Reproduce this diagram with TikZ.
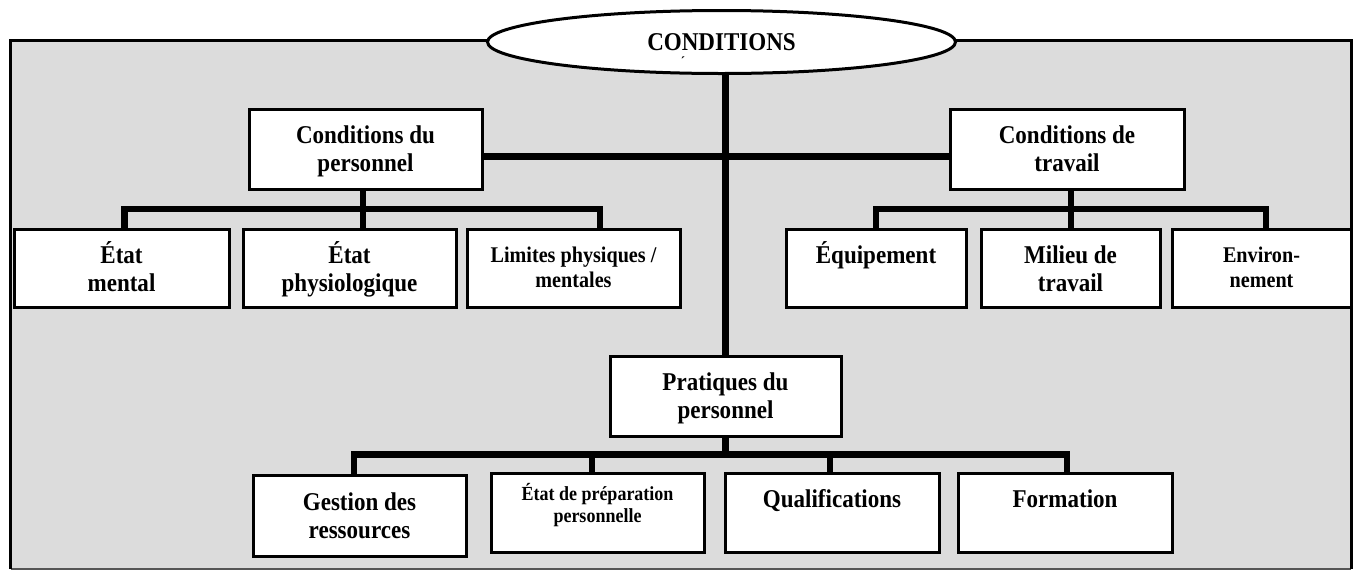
\documentclass[tikz,border=0pt]{standalone}
\usepackage{fontspec}
\setmainfont{Liberation Serif}[FakeStretch=0.9]
\usetikzlibrary{shapes.geometric}
\definecolor{framegray}{HTML}{DCDCDC}
\definecolor{edgegray}{HTML}{555555}
\tikzset{
  boxnode/.style={draw=black, line width=3pt, fill=white, inner sep=0pt, outer sep=0pt, anchor=north west, minimum height=78pt},
  txt/.style={anchor=base, inner sep=0pt, outer sep=0pt, font=\bfseries\fontsize{25.6}{28}\selectfont},
  txtmid/.style={txt, font=\bfseries\fontsize{22.4}{25}\selectfont},
  txtsmall/.style={txt, font=\bfseries\fontsize{20}{22.5}\selectfont},
  mainconn/.style={line width=7pt},
  subconn/.style={line width=6.5pt},
}
\newcommand{\tl}[1]{\begin{tabular}[t]{@{}c@{}}#1\end{tabular}}
\begin{document}
\begin{tikzpicture}[x=1pt,y=-1pt]
\useasboundingbox (0,0) rectangle (1358,571);
\fill[white] (0,0) rectangle (1358,571);
% frame
\fill[framegray] (10.5,40.5) rectangle (1351,569);
\draw[edgegray, line width=1.5pt] (10.5,569) -- (1351,569);
\draw[line width=3pt] (10.5,569) -- (10.5,40.5) -- (1351,40.5) -- (1351,569);

% top ellipse
\node[ellipse, draw, line width=3pt, fill=white, minimum width=468pt, minimum height=63pt, inner sep=0pt, outer sep=0pt] (cond) at (721.5,42) {};
\node[txt] (condt) at (721.5,50) {CONDITIONS};
\node[inner sep=0pt, font=\bfseries\fontsize{14}{14}\selectfont] (tick) at (683,62) {´};

% boxes
\node[boxnode, minimum width=233pt, minimum height=80pt] (cp) at (249,109) {};
\node[boxnode, minimum width=234pt, minimum height=80pt] (ct) at (950,109) {};
\node[boxnode, minimum width=215pt] (em) at (14,229) {};
\node[boxnode, minimum width=213pt] (ep) at (243,229) {};
\node[boxnode, minimum width=213pt] (lm) at (467,229) {};
\node[boxnode, minimum width=180pt] (eq) at (786,229) {};
\node[boxnode, minimum width=179pt] (mt) at (981,229) {};
\node[boxnode, minimum width=179pt] (en) at (1172,229) {};
\node[boxnode, minimum width=231pt, minimum height=80pt] (pp) at (610,356) {};
\node[boxnode, minimum width=213pt, minimum height=81pt] (gr) at (253,475) {};
\node[boxnode, minimum width=213pt, minimum height=79pt] (prep) at (491,473) {};
\node[boxnode, minimum width=214pt, minimum height=79pt] (qu) at (725,473) {};
\node[boxnode, minimum width=214pt, minimum height=79pt] (fo) at (958,473) {};

% connectors
\draw[mainconn] (cond.south -| pp.north) -- (pp.north);
\draw[mainconn] ([yshift=-7.5pt]cp.east) -- ([yshift=-7.5pt]ct.west);

\draw[subconn] ([xshift=-2.5pt]cp.south) -- ++(0,20) -| ([xshift=3pt]em.north);
\draw[subconn] ([xshift=-2.5pt]cp.south) -- ++(0,20) -| ([xshift=13.5pt]ep.north);
\draw[subconn] ([xshift=-2.5pt]cp.south) -- ++(0,20) -| ([xshift=26.5pt]lm.north);

\draw[subconn] ([xshift=4pt]ct.south) -- ++(0,20) -| (eq.north);
\draw[subconn] ([xshift=4pt]ct.south) -- ++(0,20) -| ([xshift=0.5pt]mt.north);
\draw[subconn] ([xshift=4pt]ct.south) -- ++(0,20) -| ([xshift=4.5pt]en.north);

\draw[subconn] (pp.south) -- ++(0,18.5) -| ([xshift=-5.5pt]gr.north);
\draw[subconn] (pp.south) -- ++(0,18.5) -| ([xshift=-5.5pt]prep.north);
\draw[subconn] (pp.south) -- ++(0,18.5) -| ([xshift=-2pt]qu.north);
\draw[subconn] (pp.south) -- ++(0,18.5) -| ([xshift=2pt]fo.north);

% texts
\node[txt] (cpt) at ([yshift=-34pt]cp.north) {\tl{Conditions du\\personnel}};
\node[txt] (ctt) at ([yshift=-34pt]ct.north) {\tl{Conditions de\\travail}};
\node[txt] (emt) at ([yshift=-34pt]em.north) {\tl{État\\mental}};
\node[txt] (ept) at ([yshift=-34pt]ep.north) {\tl{État\\physiologique}};
\node[txtmid] (lmt) at ([yshift=-33pt]lm.north) {\tl{Limites physiques /\\mentales}};
\node[txt] (eqt) at ([yshift=-34pt]eq.north) {Équipement};
\node[txt] (mtt) at ([yshift=-34pt]mt.north) {\tl{Milieu de\\travail}};
\node[txtmid] (ent) at ([yshift=-33pt]en.north) {\tl{Environ-\\nement}};
\node[txt] (ppt) at ([yshift=-34pt]pp.north) {\tl{Pratiques du\\personnel}};
\node[txt] (grt) at ([yshift=-35pt]gr.north) {\tl{Gestion des\\ressources}};
\node[txtsmall] (prept) at ([yshift=-27pt]prep.north) {\tl{État de préparation\\personnelle}};
\node[txt] (qut) at ([yshift=-34pt]qu.north) {Qualifications};
\node[txt] (fot) at ([yshift=-34pt]fo.north) {Formation};
\end{tikzpicture}
\end{document}
